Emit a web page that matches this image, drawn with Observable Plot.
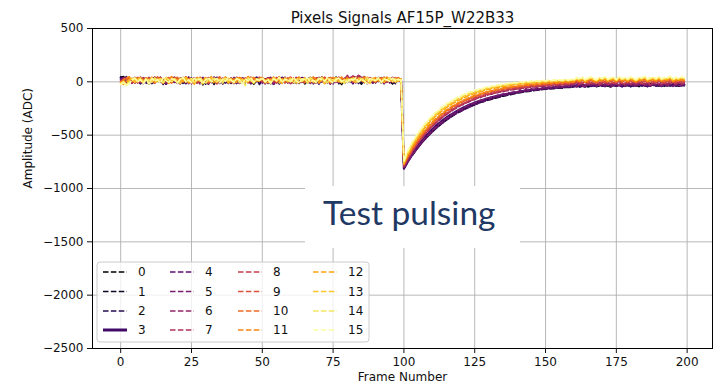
<!DOCTYPE html>
<html>
<head>
<meta charset="utf-8">
<script src="https://cdn.jsdelivr.net/npm/d3@7"></script>
<script src="https://cdn.jsdelivr.net/npm/@observablehq/plot@0.6"></script>
<style>
  body { margin: 0; background: #fff; }
  #chart { width: 725px; height: 391px; }
</style>
</head>
<body>
<div id="chart"></div>
<script>
// Pixel signals, one array per pixel, ADC counts for frames 0..199
const sig0 = [
  42, 50, 18, 35, -5, 28, 10, -15, 30, 8,
  -20, 25, 40, 2, 15, -25, 32, 12, -8, 38,
  5, -18, 22, 45, 0, 18, -12, 30, 10, -28,
  25, 8, 40, -10, 15, 32, -20, 5, 28, 12,
  -15, 35, 0, 20, -8, 42, 15, -22, 10, 30,
  -5, 25, 8, -18, 38, 12, -10, 28, 2, 20,
  35, -12, 15, 0, 30, -20, 22, 40, 5, -8,
  18, 32, -15, 10, 25, 0, 45, 12, -25, 20,
  8, 30, -5, 38, 15, -18, 25, 2, 35, -10,
  20, 5, 40, -12, 28, 10, -20, 32, 15, 0,
  -805, -762, -716, -684, -645, -610, -580, -545, -520, -488,
  -466, -436, -418, -392, -374, -352, -334, -318, -300, -286,
  -270, -258, -242, -232, -220, -210, -198, -190, -182, -172,
  -164, -160, -150, -142, -138, -128, -124, -118, -110, -108,
  -100, -96, -92, -85, -86, -78, -74, -76, -68, -64,
  -66, -58, -62, -54, -52, -56, -46, -50, -44, -48,
  -40, -32, -45, -28, -38, -42, -25, -36, -30, -44,
  -22, -35, -40, -28, -18, -38, -32, -24, -42, -30,
  -20, -36, -28, -45, -22, -30, -38, -15, -34, -26,
  -40, -24, -32, -18, -38, -28, -22, -42, -30, -26
];
const sig1 = [
  48, 20, 38, 5, 30, -10, 22, 40, -5, 15,
  30, -18, 10, 35, 0, 22, -15, 28, 8, 42,
  -8, 18, 32, -20, 12, 25, -5, 38, 15, -12,
  30, 2, 20, -25, 35, 10, -8, 28, 18, -15,
  40, 5, 22, -10, 32, 12, -18, 25, 0, 38,
  8, -12, 30, 15, -22, 20, 42, 2, 18, -8,
  25, 35, -15, 10, 28, -5, 40, 12, -20, 22,
  0, 32, 15, -10, 38, 5, 25, -18, 30, 10,
  -5, 20, 42, 0, 15, -22, 28, 8, 35, -12,
  18, 30, -8, 22, 5, 38, -15, 12, 25, 2,
  -812, -770, -722, -690, -652, -618, -582, -552, -525, -495,
  -470, -445, -420, -400, -378, -360, -340, -324, -305, -292,
  -276, -262, -250, -236, -226, -214, -204, -194, -186, -176,
  -170, -162, -155, -148, -142, -134, -130, -122, -118, -112,
  -106, -102, -98, -92, -90, -84, -82, -78, -74, -72,
  -70, -66, -62, -64, -58, -56, -60, -52, -50, -54,
  -45, -38, -50, -42, -34, -48, -40, -30, -46, -36,
  -42, -28, -38, -48, -32, -40, -26, -44, -36, -30,
  -46, -34, -28, -40, -24, -38, -44, -32, -26, -40,
  -35, -28, -42, -30, -38, -24, -40, -34, -28, -36
];
const sig2 = [
  25, 45, 10, 32, -12, 20, 38, 2, 28, -15,
  15, 35, -8, 22, 42, 5, -20, 30, 12, -5,
  38, 18, -15, 25, 8, 40, -10, 15, 30, 0,
  -22, 28, 10, 45, -5, 18, 32, -12, 22, 5,
  35, -18, 12, 28, 0, 40, 15, -8, 25, -25,
  20, 8, 38, -10, 30, 12, -20, 22, 42, 5,
  -12, 30, 18, -5, 35, 0, 25, -15, 40, 10,
  28, -8, 15, 32, -20, 22, 5, 38, -10, 18,
  30, 0, 42, 12, -15, 25, 8, -5, 35, 20,
  -10, 28, 15, 38, -2, 22, 10, -18, 30, 5,
  -800, -752, -710, -672, -632, -600, -566, -538, -508, -480,
  -456, -430, -408, -386, -366, -346, -328, -312, -296, -280,
  -266, -252, -240, -228, -216, -206, -196, -186, -178, -168,
  -162, -154, -146, -140, -132, -126, -120, -114, -108, -104,
  -98, -94, -88, -86, -80, -78, -72, -70, -66, -64,
  -60, -58, -54, -52, -50, -48, -44, -46, -40, -42,
  -32, -44, -36, -26, -40, -30, -22, -38, -34, -24,
  -36, -42, -28, -20, -34, -40, -26, -32, -18, -36,
  -30, -24, -40, -28, -35, -20, -32, -38, -26, -30,
  -22, -36, -28, -40, -24, -32, -26, -20, -34, -28
];
const sig3 = [
  38, 12, 45, 22, -8, 30, 15, -15, 35, 5,
  25, -10, 40, 18, 0, 28, -20, 12, 38, 8,
  -5, 30, 20, -15, 42, 10, 25, -8, 18, 35,
  2, -18, 28, 12, 40, -2, 22, 8, -12, 32,
  15, 38, -5, 20, 0, 30, -15, 25, 42, 10,
  -8, 18, 35, 5, -20, 28, 12, 40, -5, 22,
  30, 0, 15, -12, 38, 20, -8, 32, 8, 25,
  -18, 42, 10, 28, -5, 18, 35, 0, 22, -10,
  12, 30, -15, 25, 40, 5, 20, -8, 32, 15,
  0, 38, 22, -12, 28, 8, 35, -5, 18, 10,
  -815, -765, -718, -675, -636, -598, -564, -530, -500, -472,
  -445, -420, -396, -374, -354, -334, -316, -300, -284, -268,
  -254, -240, -228, -216, -205, -195, -185, -176, -168, -160,
  -152, -145, -138, -132, -126, -120, -114, -109, -104, -100,
  -95, -91, -87, -83, -80, -76, -73, -70, -67, -64,
  -62, -59, -57, -55, -53, -51, -49, -47, -45, -44,
  -42, -32, -44, -28, -38, -24, -40, -30, -36, -22,
  -34, -42, -26, -36, -20, -38, -30, -44, -24, -32,
  -40, -26, -34, -22, -38, -30, -42, -28, -20, -36,
  -30, -40, -24, -34, -28, -38, -22, -32, -36, -26
];
const sig4 = [
  22, 40, 5, 30, -15, 18, 35, 0, 25, -10,
  42, 12, -5, 28, 15, -20, 32, 8, 38, -2,
  20, -12, 35, 10, 25, -18, 40, 5, 15, 30,
  -8, 22, 0, 38, 12, -15, 28, 18, -5, 35,
  10, -20, 25, 42, 2, 15, -10, 30, 20, -2,
  38, 8, -15, 22, 32, 0, 18, -8, 40, 12,
  -18, 28, 5, 35, -5, 25, 15, -12, 30, 0,
  42, 20, -10, 12, 32, -20, 25, 8, 38, -5,
  15, 28, -15, 40, 2, 22, -8, 35, 18, -12,
  30, 5, 25, -18, 38, 10, 20, 0, 28, 12,
  -808, -762, -724, -684, -650, -614, -584, -550, -524, -493,
  -471, -442, -423, -397, -380, -356, -341, -319, -306, -286,
  -280, -262, -253, -236, -228, -213, -206, -191, -186, -173,
  -168, -156, -152, -141, -138, -127, -125, -115, -114, -105,
  -104, -95, -96, -86, -86, -79, -80, -72, -73, -66,
  -67, -60, -62, -55, -57, -50, -53, -47, -49, -42,
  -40, -48, -32, -42, -50, -34, -28, -44, -38, -30,
  -42, -28, -20, -36, -32, -44, -24, -16, -38, -30,
  -22, -40, -34, -26, -18, -36, -30, -42, -24, -32,
  -16, -34, -28, -38, -22, -30, -36, -20, -32, -26
];
const sig5 = [
  18, -5, 35, 22, -12, 40, 8, 28, -18, 15,
  32, 2, -10, 25, 42, 10, -15, 30, 18, 0,
  38, -8, 20, 12, -20, 35, 5, 28, -2, 42,
  15, -12, 30, 20, 0, 38, -18, 25, 10, -5,
  32, 18, -15, 40, 8, 22, -8, 35, 0, 28,
  12, -20, 30, 42, 5, 18, -10, 38, 25, -5,
  20, 8, 35, -15, 28, 12, -2, 40, 18, -12,
  32, 2, 25, 15, -20, 38, 10, -8, 30, 22,
  0, 42, 15, -10, 28, 5, 35, -18, 20, 12,
  -5, 30, 18, 2, 38, -12, 25, 10, 32, -8,
  -800, -767, -727, -682, -647, -607, -577, -540, -514, -481,
  -458, -429, -409, -382, -365, -341, -326, -304, -291, -271,
  -260, -243, -233, -217, -209, -194, -188, -174, -169, -156,
  -152, -140, -137, -126, -123, -113, -112, -102, -101, -92,
  -95, -82, -86, -74, -80, -66, -72, -60, -66, -55,
  -62, -50, -56, -46, -52, -42, -50, -38, -45, -36,
  -28, -42, -20, -35, -44, -25, -32, -18, -40, -30,
  -22, -38, -26, -45, -30, -16, -36, -28, -42, -20,
  -34, -24, -40, -30, -18, -38, -26, -44, -22, -32,
  -28, -40, -20, -34, -26, -42, -18, -36, -30, -24
];
const sig6 = [
  10, 35, -8, 28, 15, 42, -12, 20, 5, 38,
  -18, 25, 12, 40, 0, 30, -10, 18, 35, 8,
  -15, 28, 42, 2, 22, -5, 38, 15, -20, 30,
  10, 40, -8, 25, 18, -15, 35, 5, 28, -2,
  42, 12, -18, 30, 20, 0, 38, -10, 22, 15,
  -5, 35, 8, 28, -20, 40, 18, 2, 32, -12,
  25, 10, 42, -8, 20, 35, 0, 15, -15, 38,
  28, 5, -10, 30, 18, 42, -5, 22, 12, 35,
  48, 30, 55, 38, 60, 42, 50, 20, 28, 2,
  15, 38, -10, 25, 8, 32, -5, 20, 40, 12,
  -795, -748, -696, -658, -612, -580, -539, -510, -475, -449,
  -418, -396, -368, -349, -324, -308, -286, -272, -252, -240,
  -222, -213, -196, -188, -173, -166, -153, -148, -135, -131,
  -119, -116, -106, -103, -94, -92, -83, -82, -74, -73,
  -62, -70, -56, -62, -50, -56, -44, -52, -40, -46,
  -36, -44, -32, -38, -28, -36, -26, -32, -22, -30,
  -12, -24, -4, -18, -28, -8, -20, -14, -30, -6,
  -22, -16, 0, -26, -10, -20, -32, -4, -18, -12,
  -28, -6, -20, -14, 2, -24, -10, -30, -16, -8,
  -22, -2, -18, -28, -10, -14, -26, -6, -20, -12
];
const sig7 = [
  5, 28, 45, 12, -10, 35, 20, -5, 40, 15,
  -15, 30, 8, 42, 22, -8, 35, 0, 25, 45,
  10, -12, 32, 18, 40, -5, 22, 8, 38, -18,
  28, 15, -2, 42, 12, 30, -10, 20, 35, 5,
  -15, 38, 25, 0, 18, 42, -8, 30, 12, 22,
  40, 2, -12, 35, 20, 8, 45, -5, 25, 15,
  -18, 32, 10, 40, 0, 28, 18, -10, 38, 22,
  5, 42, -15, 25, 12, 35, -5, 20, 30, 8,
  60, 35, 52, 28, 58, 45, 32, 15, 40, -5,
  22, 10, 38, -12, 28, 18, 42, 0, 25, 15,
  -790, -736, -694, -645, -612, -568, -540, -498, -476, -437,
  -418, -384, -368, -337, -324, -296, -286, -260, -252, -228,
  -222, -201, -196, -176, -173, -154, -153, -136, -135, -119,
  -119, -104, -106, -91, -94, -80, -83, -70, -74, -61,
  -66, -54, -60, -48, -54, -42, -48, -36, -44, -32,
  -40, -28, -36, -26, -32, -22, -30, -18, -28, -16,
  -20, -8, -26, -14, 0, -22, -10, -18, -4, -28,
  -12, -2, -24, -16, -8, -20, 2, -14, -26, -6,
  -18, -10, -24, 0, -14, -20, -6, -28, -12, -2,
  -16, -24, -8, -20, 4, -12, -18, -6, -22, -10
];
const sig8 = [
  0, 25, 40, 8, -15, 32, 18, 45, -5, 22,
  38, 10, -12, 28, 42, 0, 20, 35, -8, 15,
  30, -18, 25, 45, 5, 18, 38, -10, 22, 12,
  40, -5, 28, 15, -20, 35, 8, 42, 20, -2,
  25, 38, 5, -12, 30, 18, 45, 0, 22, 35,
  -8, 15, 40, 10, 28, -15, 32, 20, 42, 2,
  18, -10, 35, 25, 8, 45, -5, 22, 12, 38,
  28, 0, 40, 15, -18, 30, 20, 45, 5, 25,
  -8, 35, 18, 42, 0, 28, 12, -12, 38, 22,
  32, 5, 20, 45, -5, 25, 15, 38, 8, 28,
  -785, -732, -692, -643, -608, -565, -535, -496, -471, -435,
  -414, -382, -364, -335, -320, -294, -282, -258, -248, -226,
  -218, -199, -192, -174, -169, -152, -149, -134, -131, -117,
  -115, -102, -102, -89, -90, -78, -79, -68, -70, -59,
  -62, -50, -56, -44, -50, -38, -44, -32, -40, -28,
  -36, -24, -32, -20, -28, -16, -26, -14, -22, -10,
  -14, 2, -8, -18, 6, -4, -12, 8, -6, -16,
  4, -10, -2, 10, -14, -4, 6, -8, -16, 2,
  -6, 12, -10, 0, -18, 8, -4, -12, 4, -8,
  10, -2, -14, 6, -6, 0, -10, 8, -4, 2
];
const sig9 = [
  -5, 20, 38, 5, 28, -12, 42, 15, 0, 32,
  22, -8, 45, 12, 30, -15, 25, 40, 8, 18,
  -2, 35, 22, 45, 10, -10, 30, 18, 42, 5,
  25, -15, 38, 12, 28, 48, 0, 20, 35, -8,
  15, 42, 25, 2, 38, -12, 22, 30, 10, 45,
  18, -5, 35, 25, 0, 40, 12, 28, -10, 32,
  45, 8, 20, 38, -2, 28, 15, 42, 5, -12,
  30, 22, 45, 10, 35, 0, 25, -8, 40, 18,
  12, 32, -5, 45, 20, 28, 8, 38, -10, 22,
  35, 15, 42, 0, 28, 18, -5, 38, 25, 10,
  -780, -726, -679, -631, -593, -550, -518, -481, -453, -419,
  -395, -366, -345, -319, -301, -278, -263, -242, -230, -211,
  -200, -183, -175, -159, -153, -139, -133, -120, -116, -104,
  -101, -90, -88, -78, -77, -68, -67, -58, -58, -50,
  -52, -40, -46, -34, -40, -28, -35, -24, -32, -20,
  -28, -16, -24, -12, -20, -10, -18, -6, -16, -4,
  -6, 10, -2, 14, 0, -8, 16, 4, -10, 8,
  12, -4, 18, 2, -6, 14, 6, -8, 20, 0,
  10, -6, 16, 4, 22, -2, 8, 14, -4, 18,
  2, 12, -6, 20, 6, 10, -2, 16, 8, 4
];
const sig10 = [
  2, -10, 25, 40, 10, 32, -8, 45, 18, 28,
  -2, 35, 12, 48, 22, 0, 38, 15, -12, 30,
  42, 8, 25, -5, 40, 18, 32, 2, 45, 12,
  -8, 28, 38, 15, 0, 45, 22, 35, -10, 20,
  30, 5, 42, 25, -2, 35, 12, 48, 20, 8,
  38, -8, 28, 15, 45, 2, 32, 22, -5, 40,
  18, 35, 8, 42, 25, -10, 30, 12, 45, 20,
  0, 38, 15, 28, 48, 5, 22, 35, -8, 30,
  42, 12, 25, -2, 38, 18, 45, 8, 28, 32,
  -5, 40, 20, 12, 35, 25, 2, 42, 15, 30,
  -775, -718, -672, -626, -584, -546, -508, -474, -444, -412,
  -388, -360, -336, -312, -294, -272, -256, -236, -222, -206,
  -194, -178, -168, -154, -146, -134, -126, -116, -108, -98,
  -94, -84, -80, -72, -70, -62, -60, -52, -52, -44,
  -46, -36, -40, -30, -34, -24, -30, -20, -26, -16,
  -22, -12, -18, -8, -16, -6, -12, -2, -10, 0,
  -2, 14, 2, 18, -4, 10, 20, 4, -6, 16,
  8, 22, 0, 12, 18, -2, 24, 6, 14, 2,
  20, 8, -4, 16, 10, 26, 2, 12, 18, 6,
  22, 4, 14, 10, 28, 0, 16, 8, 20, 12
];
const sig11 = [
  -8, 15, 35, 48, 5, 28, 42, 10, -5, 38,
  22, 45, 0, 30, 15, -10, 40, 25, 50, 8,
  18, 35, -2, 45, 20, 30, 5, 42, 12, -8,
  38, 25, 48, 10, 32, 0, 22, 45, 15, 35,
  -5, 28, 42, 18, 8, 50, 25, 35, 2, 20,
  45, 12, 30, -8, 40, 22, 48, 5, 32, 15,
  38, 0, 25, 45, 10, 35, 20, -5, 42, 28,
  8, 48, 18, 30, 2, 40, 25, 12, 45, 5,
  32, 20, 42, -2, 28, 15, 38, 48, 10, 25,
  40, 5, 35, 22, 45, 12, 30, 0, 38, 20,
  -770, -711, -664, -615, -578, -535, -503, -465, -437, -404,
  -380, -350, -330, -304, -287, -263, -249, -228, -216, -197,
  -187, -170, -162, -147, -140, -126, -121, -109, -105, -93,
  -90, -80, -78, -68, -67, -57, -57, -48, -48, -41,
  -42, -32, -36, -26, -30, -20, -26, -16, -22, -12,
  -18, -8, -14, -4, -12, -2, -8, 2, -6, 4,
  0, 16, 4, 20, -2, 12, 22, 6, -4, 18,
  10, 24, 2, 14, 20, 0, 26, 8, 16, 4,
  22, 10, -2, 18, 12, 28, 4, 14, 20, 8,
  24, 6, 16, 12, 30, 2, 18, 10, 22, 14
];
const sig12 = [
  -10, -25, 5, 20, 35, -2, 12, 28, -12, 18,
  2, 30, -8, 15, 38, 0, 22, -15, 10, 28,
  -5, 20, 8, 32, -10, 12, -22, 25, 5, 18,
  38, -2, 10, -8, 28, 15, 2, 32, -12, 20,
  8, -5, 30, 12, 22, 0, 35, -10, 18, 5,
  28, 10, -8, 25, 38, 2, 15, -15, 22, 8,
  -2, 32, 12, -10, 28, 18, 0, 35, 5, 20,
  -12, 25, 10, 30, -5, 18, 38, 2, 12, -8,
  28, 8, 20, -2, 32, 15, -10, 25, 5, 18,
  0, 30, 10, -5, 22, 35, 2, 18, 8, 12,
  -765, -694, -645, -596, -557, -513, -481, -442, -414, -381,
  -357, -327, -307, -281, -264, -240, -226, -206, -194, -175,
  -166, -149, -141, -126, -120, -107, -102, -90, -86, -75,
  -72, -62, -60, -51, -50, -41, -41, -33, -33, -25,
  -26, -16, -20, -10, -15, -6, -11, -2, -7, 3,
  -4, 8, 0, 10, 2, 12, 4, 14, 6, 16,
  10, 28, 14, 32, 8, 24, 34, 18, 6, 30,
  20, 36, 12, 26, 32, 10, 38, 18, 28, 14,
  34, 22, 8, 30, 24, 40, 14, 26, 32, 18,
  36, 16, 28, 24, 42, 12, 30, 22, 34, 26
];
const sig13 = [
  -15, 5, -28, 15, 32, -5, 22, 38, 0, 28,
  -18, 12, 35, 2, 25, -10, 40, 18, -2, 30,
  10, -15, 28, 38, 5, 20, -8, 32, 15, -20,
  25, 2, 38, 12, -5, 30, 18, 40, 0, 22,
  -12, 35, 8, 25, -2, 38, 15, -15, 28, 10,
  32, -8, 20, 5, 40, 12, -10, 25, 35, 0,
  18, 30, -12, 22, 8, 38, 2, 28, -5, 15,
  35, 10, -18, 30, 20, 0, 38, 12, -8, 25,
  5, 32, 18, -10, 28, 40, 2, 20, -15, 35,
  12, 25, -2, 38, 8, 22, 30, -5, 15, 28,
  -760, -688, -637, -585, -545, -501, -467, -428, -400, -366,
  -342, -312, -292, -266, -249, -226, -212, -192, -180, -162,
  -153, -136, -129, -114, -108, -95, -91, -79, -75, -65,
  -62, -52, -51, -42, -41, -33, -33, -25, -25, -18,
  -19, -10, -14, -5, -9, 0, -5, 3, -2, 6,
  2, 10, 4, 12, 6, 14, 8, 16, 10, 18,
  14, 32, 18, 36, 10, 28, 38, 22, 12, 34,
  24, 40, 16, 30, 36, 14, 42, 22, 32, 18,
  38, 26, 12, 34, 28, 44, 18, 30, 36, 22,
  40, 20, 32, 28, 46, 16, 34, 26, 38, 30
];
const sig14 = [
  -20, 0, -30, -8, 22, 38, 5, 25, -12, 32,
  15, -5, 35, 10, 28, -15, 40, 18, 2, 30,
  -8, 22, 38, 0, 15, 32, -10, 25, 40, 8,
  -18, 28, 12, 35, 2, 20, -12, 38, 15, 25,
  5, 30, -8, 18, -35, 35, 10, -5, 28, 20,
  40, 2, 25, -15, 32, 12, 38, -2, 22, 8,
  30, -10, 18, 35, 5, 28, -12, 40, 15, 0,
  25, 38, 8, -8, 32, 18, 2, 35, 12, -15,
  28, 5, 40, 20, -5, 30, 15, 38, 0, 22,
  10, 35, -10, 25, 18, 40, 2, 28, 12, 20,
  -750, -674, -621, -567, -529, -482, -451, -410, -384, -347,
  -325, -294, -276, -248, -234, -209, -197, -175, -166, -146,
  -139, -121, -116, -100, -96, -82, -80, -66, -65, -53,
  -53, -41, -42, -31, -33, -22, -25, -15, -18, -9,
  -12, -4, -6, 1, -3, 5, 1, 8, 4, 11,
  7, 13, 9, 15, 11, 17, 13, 19, 15, 20,
  16, 36, 22, 40, 14, 32, 42, 26, 16, 38,
  28, 44, 20, 34, 40, 18, 46, 26, 36, 22,
  42, 30, 16, 38, 32, 48, 22, 34, 40, 26,
  44, 24, 36, 32, 50, 20, 38, 30, 42, 34
];
const sig15 = [
  -25, -8, -35, -15, 15, 32, -2, 20, -18, 28,
  -20, 35, 5, 22, -10, 38, 12, -5, 30, 18,
  -12, 25, 40, 2, 18, -8, 35, 10, 28, -15,
  20, 38, 0, 15, 32, -10, 25, 5, 40, 12,
  -5, 30, 18, -18, 28, 8, 38, -2, 22, 15,
  35, 0, 20, -12, 30, 10, 42, -5, 25, 18,
  2, 38, 12, -10, 28, 20, 35, 0, 15, -8,
  32, 22, 5, 40, 10, -12, 25, 35, 2, 18,
  -5, 30, 15, 38, 0, 22, 8, -15, 32, 20,
  12, 40, -2, 28, 18, 5, 35, 10, 25, 15,
  -745, -666, -614, -560, -523, -476, -445, -404, -378, -342,
  -320, -289, -271, -243, -229, -204, -193, -171, -162, -142,
  -135, -117, -112, -96, -93, -78, -76, -62, -62, -49,
  -49, -38, -39, -28, -29, -19, -21, -12, -15, -6,
  -8, -1, -3, 4, 0, 8, 4, 11, 7, 14,
  10, 16, 12, 18, 14, 20, 16, 22, 18, 23,
  20, 40, 26, 44, 18, 36, 46, 30, 20, 42,
  32, 48, 24, 38, 44, 22, 50, 30, 40, 26,
  46, 34, 20, 42, 36, 52, 26, 38, 44, 30,
  48, 28, 40, 36, 54, 24, 42, 34, 46, 38
];

const pixelIds = d3.range(16);
const signals = [sig0, sig1, sig2, sig3, sig4, sig5, sig6, sig7,
                 sig8, sig9, sig10, sig11, sig12, sig13, sig14, sig15];
const xTicks = [0, 25, 50, 75, 100, 125, 150, 175, 200];
const yTicks = [-2500, -2000, -1500, -1000, -500, 0, 500];

const titleText = "Pixels Signals AF15P_W22B33";
const xLabel = "Frame Number";
const yLabel = "Amplitude (ADC)";
const noteText = "Test pulsing";

const highlighted = 3;
const colorOf = p => d3.interpolateInferno(p / 15);
const minus = d => String(d).replace("-", "\u2212");
const widthOf = p => (p === highlighted ? 2.2 : 1.6);
const dashOf = p => (p === highlighted ? null : "5.5,2.4");

const rowsFor = p => signals[p].map((adc, frame) => ({pixel: p, frame, adc}));

const lineMarks = pixelIds.map(p => Plot.line(rowsFor(p), {
  x: "frame",
  y: "adc",
  stroke: colorOf(p),
  strokeWidth: widthOf(p),
  strokeDasharray: dashOf(p),
  strokeLinejoin: "round"
}));

const chart = Plot.plot({
  width: 725,
  height: 391,
  marginLeft: 92,
  marginRight: 13,
  marginTop: 28,
  marginBottom: 43,
  style: {fontFamily: "DejaVu Sans", fontSize: "12px", color: "#111", background: "#fff", overflow: "visible"},
  x: {domain: [-9.95, 208.95]},
  y: {domain: [-2500, 500]},
  marks: [
    Plot.gridX(xTicks, {stroke: "#b0b0b0", strokeOpacity: 1, strokeWidth: 0.9}),
    Plot.gridY(yTicks, {stroke: "#b0b0b0", strokeOpacity: 1, strokeWidth: 0.9}),
    ...lineMarks,
    Plot.frame({stroke: "#000", strokeWidth: 1}),
    Plot.axisX({ticks: xTicks, tickSize: 5, tickPadding: 4, tickFormat: minus, label: null, fontSize: 12}),
    Plot.axisY({ticks: yTicks, tickSize: 5, tickPadding: 4, tickFormat: minus, label: null, fontSize: 12}),
    Plot.text([titleText], {text: d => d, frameAnchor: "top", dy: -16, fontSize: 15}),
    Plot.text([xLabel], {text: d => d, frameAnchor: "bottom", dy: 32, fontSize: 12}),
    Plot.text([yLabel], {text: d => d, frameAnchor: "left", dx: -64, rotate: -90, fontSize: 12})
  ]
});

// Legend: four columns of four entries, lower-left inside the axes
const svg = d3.select(chart);
const legend = svg.append("g")
  .attr("font-family", "DejaVu Sans").attr("font-size", 12).attr("text-anchor", "start");
legend.append("rect")
  .attr("x", 97).attr("y", 262).attr("width", 272).attr("height", 80)
  .attr("rx", 3).attr("fill", "#fff").attr("fill-opacity", 0.8)
  .attr("stroke", "#cccccc").attr("stroke-width", 1);
const colX = [103, 170, 238, 313];
const rowY = [272, 291.5, 311, 330];
pixelIds.forEach(p => {
  const cx = colX[Math.floor(p / 4)];
  const cy = rowY[p % 4];
  legend.append("line")
    .attr("x1", cx).attr("x2", cx + 24).attr("y1", cy).attr("y2", cy)
    .attr("stroke", colorOf(p))
    .attr("stroke-width", p === highlighted ? 3 : 1.5)
    .attr("stroke-dasharray", dashOf(p));
  legend.append("text")
    .attr("x", cx + 35).attr("y", cy).attr("dy", "0.35em")
    .attr("fill", "#111").text(String(p));
});

// Annotation box
const note = svg.append("g").attr("text-anchor", "start");
note.append("rect").attr("x", 305).attr("y", 186).attr("width", 215).attr("height", 62).attr("fill", "#fff");
note.append("text")
  .attr("x", 323).attr("y", 225)
  .attr("font-family", "Lato").attr("font-size", 33.5)
  .attr("fill", "#1f3864").text(noteText);

document.getElementById("chart").appendChild(chart);
</script>
</body>
</html>
